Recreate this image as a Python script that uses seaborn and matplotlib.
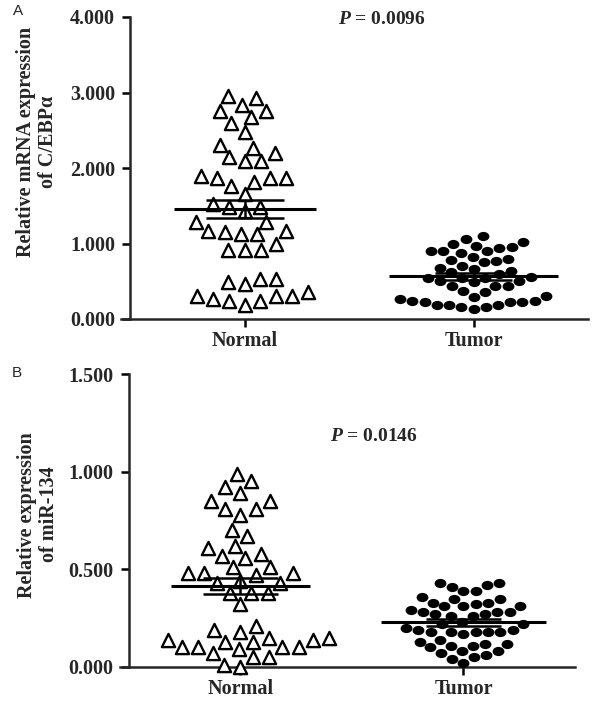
import numpy as np
import pandas as pd
import seaborn as sns
import matplotlib.pyplot as plt
from matplotlib.path import Path

groups = ["Normal", "Tumor"]

# panel A: relative mRNA expression of C/EBPa
cebpa_normal = [2.95, 2.93, 2.84, 2.75, 2.75, 2.67, 2.60, 2.48, 2.31, 2.27, 2.20, 2.14,
                2.09, 2.09, 1.89, 1.87, 1.87, 1.87, 1.82, 1.76, 1.65, 1.52, 1.49, 1.49,
                1.43, 1.29, 1.29, 1.16, 1.16, 1.15, 1.12, 1.12, 0.99, 0.92, 0.92, 0.92,
                0.53, 0.53, 0.49, 0.46, 0.36, 0.31, 0.31, 0.31, 0.26, 0.24, 0.24, 0.18]
cebpa_tumor = [1.10, 1.06, 1.02, 1.00, 0.97, 0.94, 0.95, 0.90, 0.88, 0.90, 0.90, 0.79,
               0.75, 0.77, 0.78, 0.82, 0.70, 0.68, 0.66, 0.62, 0.63, 0.59, 0.49, 0.55,
               0.54, 0.54, 0.54, 0.50, 0.50, 0.44, 0.44, 0.44, 0.37, 0.36, 0.29, 0.26,
               0.30, 0.24, 0.24, 0.22, 0.22, 0.18, 0.16, 0.13, 0.16, 0.18, 0.18, 0.22]

# panel B: relative expression of miR-134
mir_normal = [0.99, 0.95, 0.92, 0.89, 0.85, 0.85, 0.81, 0.81, 0.78, 0.67, 0.70, 0.61,
              0.62, 0.57, 0.58, 0.56, 0.51, 0.51, 0.48, 0.48, 0.48, 0.47, 0.44, 0.43,
              0.43, 0.38, 0.38, 0.38, 0.32, 0.21, 0.19, 0.18, 0.13, 0.15, 0.14, 0.14,
              0.13, 0.15, 0.10, 0.10, 0.10, 0.10, 0.09, 0.07, 0.05, 0.05, 0.00, 0.01]
mir_tumor = [0.43, 0.43, 0.42, 0.41, 0.39, 0.39, 0.36, 0.35, 0.35, 0.33, 0.33, 0.31,
             0.32, 0.31, 0.31, 0.29, 0.28, 0.28, 0.28, 0.26, 0.27, 0.27, 0.26, 0.22,
             0.23, 0.22, 0.19, 0.18, 0.18, 0.18, 0.20, 0.17, 0.18, 0.18, 0.19, 0.12,
             0.11, 0.10, 0.14, 0.11, 0.12, 0.13, 0.07, 0.05, 0.08, 0.08, 0.06, 0.02, 0.04]

p_values = ["0.0096", "0.0146"]
ylabels = ["Relative mRNA expression\nof C/EBPα", "Relative expression\nof miR-134"]
yticks_a = [0, 1, 2, 3, 4]
yticks_b = [0, 0.5, 1.0, 1.5]

sns.set_style("ticks")
plt.rcParams['font.family'] = ['Liberation Serif', 'DejaVu Serif']
plt.rcParams['font.weight'] = 'bold'
plt.rcParams['mathtext.fontset'] = 'custom'
plt.rcParams['mathtext.bfit'] = 'Liberation Serif:italic:bold'
plt.rcParams['axes.linewidth'] = 1.8

# slightly flattened dot, like the scanned figure
circ = Path.unit_circle()
oval = Path(circ.vertices * np.array([1.0, 0.78]), circ.codes)

fig = plt.figure(figsize=(6, 7.05), dpi=100)
axA = fig.add_axes([121/600, 1-319/705, 467/600, 302/705])
axB = fig.add_axes([120/600, 1-667/705, 455/600, 293/705])


def panel(ax, normal, tumor, yticks, ylabel, pval, ptext_y, label_y):
    dn = pd.DataFrame({"group": "Normal", "value": normal})
    dt = pd.DataFrame({"group": "Tumor", "value": tumor})
    sns.swarmplot(data=dn, x="group", y="value", order=groups, ax=ax,
                  marker="^", color="white", edgecolor="black", linewidth=1.7,
                  size=9.5, clip_on=False, zorder=3)
    sns.swarmplot(data=dt, x="group", y="value", order=groups, ax=ax,
                  marker=oval, color="black", edgecolor="black", linewidth=0,
                  size=8.5, clip_on=False, zorder=3)
    for pos, vals, hw in [(0, normal, 0.31), (1, tumor, 0.37)]:
        v = np.array(vals)
        m = v.mean()
        se = v.std(ddof=1) / np.sqrt(len(v))
        ax.hlines(m, pos - hw, pos + hw, color="black", lw=2.2, zorder=5)
        ax.vlines(pos, m - se, m + se, color="black", lw=1.8, zorder=5)
        ax.hlines([m - se, m + se], pos - 0.17, pos + 0.17, color="black", lw=1.8, zorder=5)

    ax.set_xlim(-0.54, 1.50)
    ax.set_ylim(yticks[0], yticks[-1])
    ax.set_yticks(yticks)
    ax.set_yticklabels(["%.3f" % t for t in yticks])
    ax.set_xticks([0, 1])
    ax.set_xticklabels(groups)
    ax.spines['left'].set_position(('data', -0.5))
    sns.despine(ax=ax)
    ax.tick_params(axis='both', direction='out', length=6, width=1.8, color="black",
                   labelsize=14.5)
    ax.tick_params(axis='y', pad=5)
    ax.tick_params(axis='x', pad=3)
    ax.set_xlabel("")
    ax.set_ylabel(ylabel, fontsize=14.5, fontweight="bold", linespacing=1.1)
    ax.yaxis.set_label_coords(-0.135, label_y)
    ax.text(0.6, ptext_y, r"$\mathbfit{P}$ = " + pval, fontsize=14, fontweight="bold",
            ha="center", va="center")


panel(axA, cebpa_normal, cebpa_tumor, yticks_a, ylabels[0], p_values[0], 3.97, 0.585)
panel(axB, mir_normal, mir_tumor, yticks_b, ylabels[1], p_values[1], 1.18, 0.52)

fig.text(18/600, 1-11/705, "A", family="Liberation Sans", fontweight="normal",
         fontsize=11, ha="center", va="center")
fig.text(17/600, 1-373/705, "B", family="Liberation Sans", fontweight="normal",
         fontsize=11, ha="center", va="center")

fig.savefig("out.png", dpi=100)
